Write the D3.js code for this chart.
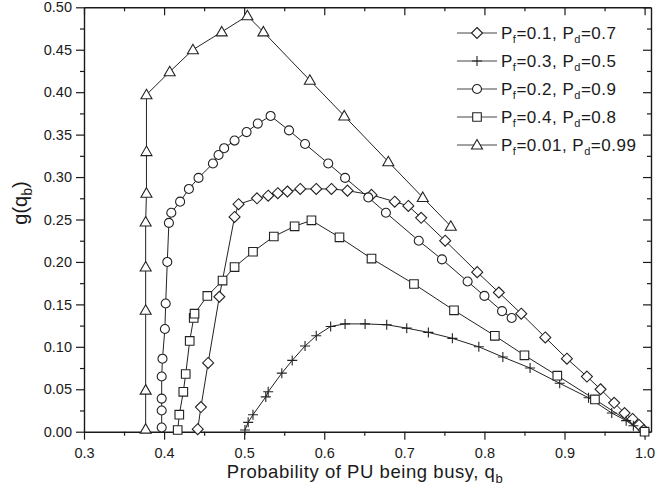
<!DOCTYPE html>
<html>
<head>
<meta charset="utf-8">
<script src="https://cdn.jsdelivr.net/npm/d3@7/dist/d3.min.js"></script>
<style>
  html, body { margin: 0; padding: 0; background: #fff; }
  svg { display: block; }
  text { font-family: "Liberation Sans", Arial, sans-serif; fill: #1a1a1a; }
</style>
</head>
<body>
<svg id="chart" width="655" height="491"></svg>
<script>
// ---------- DATA ----------
const xTicks = [0.3, 0.4, 0.5, 0.6, 0.7, 0.8, 0.9, 1.0];
const yTicks = [0.00, 0.05, 0.10, 0.15, 0.20, 0.25, 0.30, 0.35, 0.40, 0.45, 0.50];

// Pf=0.1, Pd=0.7 (diamonds)
const diamondX = [0.442, 0.446, 0.455, 0.469, 0.488, 0.493, 0.516, 0.530, 0.542, 0.554, 0.570, 0.590, 0.609, 0.629, 0.659, 0.688, 0.705, 0.721, 0.751, 0.791, 0.818, 0.846, 0.876, 0.903, 0.928, 0.945, 0.962, 0.975, 0.985, 0.993, 0.999];
const diamondY = [0.003, 0.029, 0.081, 0.159, 0.253, 0.268, 0.275, 0.278, 0.281, 0.283, 0.286, 0.286, 0.286, 0.284, 0.279, 0.271, 0.266, 0.252, 0.225, 0.188, 0.164, 0.139, 0.111, 0.086, 0.065, 0.050, 0.034, 0.022, 0.015, 0.008, 0.002];

// Pf=0.3, Pd=0.5 (plus)
const plusX = [0.501, 0.505, 0.511, 0.527, 0.530, 0.547, 0.560, 0.576, 0.590, 0.608, 0.626, 0.651, 0.678, 0.703, 0.730, 0.760, 0.793, 0.823, 0.857, 0.894, 0.930, 0.959, 0.977, 0.986, 1.000];
const plusY = [0.002, 0.011, 0.020, 0.041, 0.047, 0.069, 0.084, 0.101, 0.113, 0.124, 0.127, 0.127, 0.126, 0.122, 0.117, 0.110, 0.100, 0.088, 0.075, 0.057, 0.040, 0.022, 0.013, 0.007, 0.000];

// Pf=0.2, Pd=0.9 (circles)
const circleX = [0.397, 0.397, 0.397, 0.397, 0.398, 0.401, 0.402, 0.404, 0.406, 0.409, 0.420, 0.431, 0.443, 0.461, 0.468, 0.475, 0.488, 0.503, 0.517, 0.533, 0.556, 0.576, 0.605, 0.626, 0.655, 0.677, 0.718, 0.747, 0.779, 0.800, 0.822, 0.834];
const circleY = [0.005, 0.025, 0.039, 0.065, 0.086, 0.121, 0.151, 0.200, 0.246, 0.258, 0.271, 0.286, 0.299, 0.316, 0.326, 0.334, 0.343, 0.353, 0.363, 0.372, 0.355, 0.339, 0.316, 0.299, 0.276, 0.258, 0.225, 0.203, 0.177, 0.160, 0.142, 0.134];

// Pf=0.4, Pd=0.8 (squares)
const squareX = [0.417, 0.419, 0.424, 0.427, 0.432, 0.437, 0.438, 0.454, 0.473, 0.488, 0.511, 0.537, 0.563, 0.584, 0.619, 0.659, 0.712, 0.762, 0.813, 0.850, 0.891, 0.938, 1.000];
const squareY = [0.002, 0.020, 0.047, 0.068, 0.107, 0.134, 0.139, 0.160, 0.178, 0.194, 0.212, 0.230, 0.242, 0.249, 0.229, 0.204, 0.174, 0.143, 0.113, 0.090, 0.066, 0.038, 0.000];

// Pf=0.01, Pd=0.99 (triangles)
const triangleX = [0.377, 0.377, 0.377, 0.377, 0.377, 0.378, 0.378, 0.378, 0.407, 0.436, 0.472, 0.504, 0.524, 0.582, 0.625, 0.680, 0.723, 0.758];
const triangleY = [0.003, 0.049, 0.143, 0.194, 0.247, 0.281, 0.330, 0.397, 0.424, 0.450, 0.471, 0.490, 0.471, 0.414, 0.372, 0.318, 0.276, 0.242];

const seriesNames = [
  {pf: "0.1", pd: "0.7"},
  {pf: "0.3", pd: "0.5"},
  {pf: "0.2", pd: "0.9"},
  {pf: "0.4", pd: "0.8"},
  {pf: "0.01", pd: "0.99"}
];
const seriesMarkers = ["diamond", "plus", "circle", "square", "triangle"];

// ---------- BUILD ----------
const series = [
  {x: diamondX, y: diamondY},
  {x: plusX, y: plusY},
  {x: circleX, y: circleY},
  {x: squareX, y: squareY},
  {x: triangleX, y: triangleY}
].map((s, i) => ({
  name: seriesNames[i],
  marker: seriesMarkers[i],
  pts: s.x.map((xv, j) => [xv, s.y[j]])
}));

const svg = d3.select("#chart");
const L = 84, R = 651, T = 7.3, B = 431.7;

const x = d3.scaleLinear().domain([0.3, 1.008]).range([L, R]);
const y = d3.scaleLinear().domain([0, 0.5]).range([B, T]);

const ink = "#1a1a1a";

function markerPath(type) {
  switch (type) {
    case "diamond": return "M0,-5.5L5.5,0L0,5.5L-5.5,0Z";
    case "plus": return "M-5,0H5M0,-5V5";
    case "circle": return d3.symbol(d3.symbolCircle, 64)();
    case "square": return "M-4.3,-4.3H4.3V4.3H-4.3Z";
    case "triangle": return "M0,-5.5L5.5,4L-5.5,4Z";
  }
}

const minorX = d3.range(0.3, 1.0001, 0.05).filter(v => Math.abs(Math.round(v * 10) - v * 10) > 0.01);
const minorY = d3.range(0.025, 0.5, 0.05);

// left axis
svg.append("g").attr("transform", `translate(${L},0)`)
  .call(d3.axisLeft(y).tickValues(yTicks).tickFormat(d3.format(".2f")).tickSize(8).tickPadding(4).tickSizeOuter(0));
svg.append("g").attr("transform", `translate(${L},0)`)
  .call(d3.axisLeft(y).tickValues(minorY).tickFormat("").tickSize(4).tickSizeOuter(0))
  .select(".domain").remove();

// bottom axis
svg.append("g").attr("transform", `translate(0,${B})`)
  .call(d3.axisBottom(x).tickValues(xTicks).tickFormat(d3.format(".1f")).tickSize(8).tickPadding(8).tickSizeOuter(0));
svg.append("g").attr("transform", `translate(0,${B})`)
  .call(d3.axisBottom(x).tickValues(minorX).tickFormat("").tickSize(4).tickSizeOuter(0))
  .select(".domain").remove();

// top axis (inward ticks)
svg.append("g").attr("transform", `translate(0,${T})`)
  .call(d3.axisTop(x).tickValues(xTicks).tickFormat("").tickSize(-8).tickSizeOuter(0));
svg.append("g").attr("transform", `translate(0,${T})`)
  .call(d3.axisTop(x).tickValues(minorX).tickFormat("").tickSize(-4).tickSizeOuter(0))
  .select(".domain").remove();

// right axis (inward ticks)
svg.append("g").attr("transform", `translate(${R},0)`)
  .call(d3.axisRight(y).tickValues(yTicks).tickFormat("").tickSize(-8).tickSizeOuter(0));
svg.append("g").attr("transform", `translate(${R},0)`)
  .call(d3.axisRight(y).tickValues(minorY).tickFormat("").tickSize(-4).tickSizeOuter(0))
  .select(".domain").remove();

svg.selectAll(".domain").attr("stroke", ink).attr("stroke-width", 1.4);
svg.selectAll(".tick line").attr("stroke", ink).attr("stroke-width", 1.2);
svg.selectAll(".tick text").attr("font-size", 14.5).attr("fill", ink)
  .attr("font-family", "'Liberation Sans', Arial, sans-serif");

const line = d3.line().x(d => x(d[0])).y(d => y(d[1]));

const plot = svg.append("g");
series.forEach(s => {
  plot.append("path").datum(s.pts)
    .attr("d", line).attr("fill", "none")
    .attr("stroke", "#222").attr("stroke-width", 1);
});
series.forEach(s => {
  plot.append("g").selectAll("path").data(s.pts).join("path")
    .attr("transform", d => `translate(${x(d[0])},${y(d[1])})`)
    .attr("d", markerPath(s.marker))
    .attr("fill", s.marker === "plus" ? "none" : "#fff")
    .attr("stroke", "#222").attr("stroke-width", 1.1);
});

// legend
const leg = svg.append("g");
const rowY = [33, 61, 89, 117, 145];
series.forEach((s, i) => {
  const g = leg.append("g").attr("transform", `translate(0,${rowY[i]})`);
  g.append("line").attr("x1", 457).attr("x2", 497).attr("y1", 0).attr("y2", 0)
    .attr("stroke", "#444").attr("stroke-width", 1);
  g.append("path").attr("transform", "translate(477,0)")
    .attr("d", markerPath(s.marker))
    .attr("fill", s.marker === "plus" ? "none" : "#fff")
    .attr("stroke", "#222").attr("stroke-width", 1.1);
  const t = g.append("text").attr("x", 501).attr("y", 6).attr("font-size", 17)
    .attr("letter-spacing", 0.5);
  t.append("tspan").text("P");
  t.append("tspan").attr("font-size", 11).attr("dy", 4).text("f");
  t.append("tspan").attr("dy", -4).text(`=${s.name.pf}, P`);
  t.append("tspan").attr("font-size", 11).attr("dy", 4).text("d");
  t.append("tspan").attr("dy", -4).text(`=${s.name.pd}`);
});

// axis titles
const xt = svg.append("text").attr("x", 365).attr("y", 478)
  .attr("text-anchor", "middle").attr("font-size", 18.5).attr("letter-spacing", 0.55);
xt.append("tspan").text("Probability of PU being busy, q");
xt.append("tspan").attr("font-size", 13).attr("dy", 5).text("b");

const yt = svg.append("text").attr("transform", "translate(27,203) rotate(-90)")
  .attr("text-anchor", "middle").attr("font-size", 20);
yt.append("tspan").text("g(q");
yt.append("tspan").attr("font-size", 14).attr("dy", 5).text("b");
yt.append("tspan").attr("dy", -5).text(")");
</script>
</body>
</html>
